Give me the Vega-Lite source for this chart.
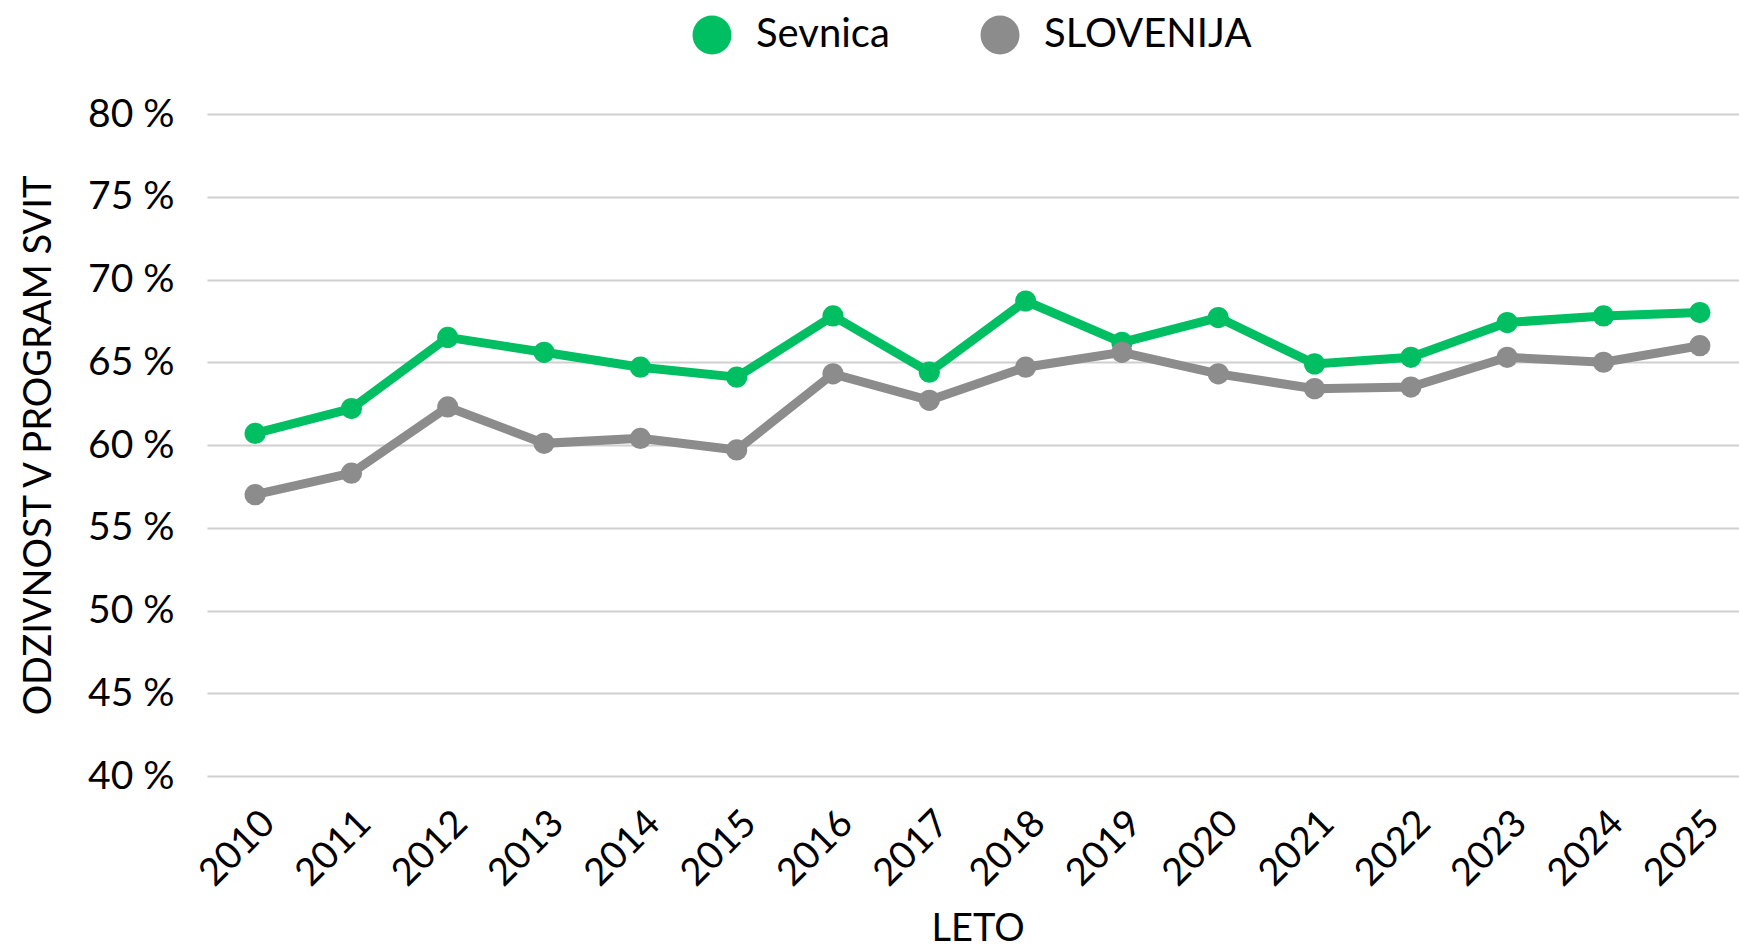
{
  "$schema": "https://vega.github.io/schema/vega-lite/v6.json",
  "autosize": {"type": "none"},
  "padding": {"left": 207, "top": 114, "right": 0, "bottom": 176},
  "width": 1541,
  "height": 662,
  "background": "white",
  "config": {
    "view": {"stroke": null},
    "font": "Lato",
    "axis": {"labelFont": "Lato", "titleFont": "Lato", "labelColor": "#000000", "titleColor": "#000000", "titleFontWeight": "normal"},
    "legend": {"labelFont": "Lato", "labelColor": "#000000"}
  },
  "data": {
    "values": [
      {"year": "2010", "series": "Sevnica", "value": 60.7},
      {"year": "2011", "series": "Sevnica", "value": 62.2},
      {"year": "2012", "series": "Sevnica", "value": 66.5},
      {"year": "2013", "series": "Sevnica", "value": 65.6},
      {"year": "2014", "series": "Sevnica", "value": 64.7},
      {"year": "2015", "series": "Sevnica", "value": 64.1},
      {"year": "2016", "series": "Sevnica", "value": 67.8},
      {"year": "2017", "series": "Sevnica", "value": 64.4},
      {"year": "2018", "series": "Sevnica", "value": 68.7},
      {"year": "2019", "series": "Sevnica", "value": 66.2},
      {"year": "2020", "series": "Sevnica", "value": 67.7},
      {"year": "2021", "series": "Sevnica", "value": 64.9},
      {"year": "2022", "series": "Sevnica", "value": 65.3},
      {"year": "2023", "series": "Sevnica", "value": 67.4},
      {"year": "2024", "series": "Sevnica", "value": 67.8},
      {"year": "2025", "series": "Sevnica", "value": 68.0},
      {"year": "2010", "series": "SLOVENIJA", "value": 57.0},
      {"year": "2011", "series": "SLOVENIJA", "value": 58.3},
      {"year": "2012", "series": "SLOVENIJA", "value": 62.3},
      {"year": "2013", "series": "SLOVENIJA", "value": 60.1},
      {"year": "2014", "series": "SLOVENIJA", "value": 60.4},
      {"year": "2015", "series": "SLOVENIJA", "value": 59.7},
      {"year": "2016", "series": "SLOVENIJA", "value": 64.3},
      {"year": "2017", "series": "SLOVENIJA", "value": 62.7},
      {"year": "2018", "series": "SLOVENIJA", "value": 64.7},
      {"year": "2019", "series": "SLOVENIJA", "value": 65.6},
      {"year": "2020", "series": "SLOVENIJA", "value": 64.3},
      {"year": "2021", "series": "SLOVENIJA", "value": 63.4},
      {"year": "2022", "series": "SLOVENIJA", "value": 63.5},
      {"year": "2023", "series": "SLOVENIJA", "value": 65.3},
      {"year": "2024", "series": "SLOVENIJA", "value": 65.0},
      {"year": "2025", "series": "SLOVENIJA", "value": 66.0}
    ]
  },
  "encoding": {
    "x": {
      "field": "year", "type": "ordinal",
      "scale": {"type": "point", "padding": 0.5},
      "axis": {
        "title": "LETO", "titleFontSize": 38, "titleY": 153, "titleBaseline": "middle",
        "labelAngle": -45, "labelFontSize": 38, "labelPadding": 28,
        "domain": false, "ticks": false, "grid": false
      }
    },
    "y": {
      "field": "value", "type": "quantitative",
      "scale": {"domain": [40, 80], "nice": false, "zero": false},
      "axis": {
        "values": [40, 45, 50, 55, 60, 65, 70, 75, 80],
        "labelExpr": "format(datum.value, '.0f') + ' %'",
        "labelFontSize": 39, "labelPadding": 33,
        "domain": false, "ticks": false,
        "grid": true, "gridColor": "#d0d0d0", "gridWidth": 2,
        "title": "ODZIVNOST V PROGRAM SVIT", "titleFontSize": 38,
        "titleX": -168, "titleY": 331, "titleAngle": -90, "titleAlign": "center", "titleBaseline": "middle"
      }
    },
    "color": {
      "field": "series", "type": "nominal",
      "scale": {"domain": ["Sevnica", "SLOVENIJA"], "range": ["#00BF63", "#8C8C8C"]},
      "legend": {
        "title": null, "orient": "none", "direction": "horizontal",
        "legendX": 485, "legendY": -99,
        "symbolType": "circle", "symbolSize": 1520, "symbolStrokeWidth": 0, "symbolOpacity": 1,
        "labelFontSize": 40, "labelOffset": 24, "labelLimit": 0, "columnPadding": 90, "padding": 0,
        "encode": {
          "symbols": {"update": {"fill": {"scale": "color", "field": "value"}, "stroke": {"value": "transparent"}, "strokeWidth": {"value": 0}, "opacity": {"value": 1}}}
        }
      }
    }
  },
  "layer": [
    {
      "mark": {"type": "line", "strokeWidth": 9}
    },
    {
      "mark": {"type": "point", "filled": true, "size": 450, "opacity": 1}
    }
  ]
}
